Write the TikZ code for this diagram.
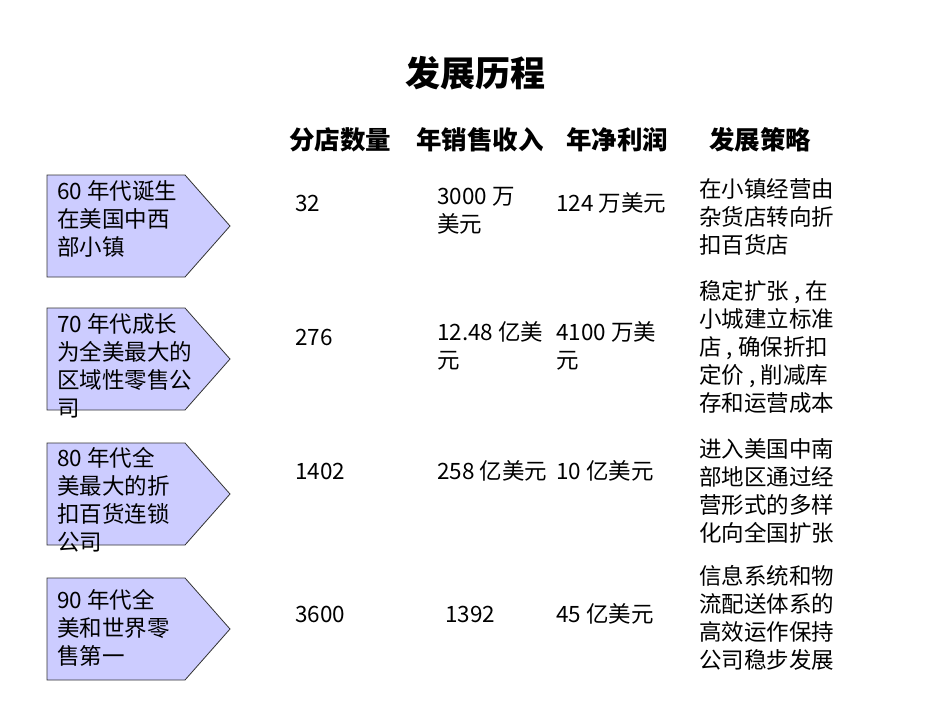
\documentclass[tikz,border=0pt]{standalone}
\usepackage{fontspec}
\setmainfont{Noto Sans CJK SC}
\definecolor{lavender}{RGB}{204,204,255}
\tikzset{
  era/.style={draw=black!80, fill=lavender, line width=0.8pt},
  txt/.style={anchor=north west, inner sep=0pt, align=left, font=\fontsize{22.5}{28}\selectfont},
  cell/.style={anchor=west, inner sep=0pt, font=\fontsize{22.5}{28}\selectfont},
  head/.style={inner sep=0pt, font=\fontsize{25.5}{28}\selectfont\bfseries}
}
\begin{document}
\begin{tikzpicture}[x=1pt,y=-1pt]
  \useasboundingbox (0,0) rectangle (950,713);

  % Title and column heads
  \node[head, font=\fontsize{35}{40}\selectfont\bfseries] (title) at (475,73) {发展历程};
  \node[head] (hstores) at (340,140) {分店数量};
  \node[head] (hsales) at (480,140) {年销售收入};
  \node[head] (hprofit) at (617,140) {年净利润};
  \node[head] (hplan) at (760,140) {发展策略};

  % Era arrows
  \foreach \t/\p in {175/1,308/2,443/3,578/4}
    \draw[era] (47,\t) -- (185,\t) -- (230,\t+51) -- (185,\t+102) -- (47,\t+102) -- cycle;

  \node[txt] (era1) at (57,180) {60 年代诞生\\在美国中西\\部小镇};
  \node[txt] (era2) at (57,313) {70 年代成长\\为全美最大的\\区域性零售公\\司};
  \node[txt] (era3) at (57,447) {80 年代全\\美最大的折\\扣百货连锁\\公司};
  \node[txt] (era4) at (57,589) {90 年代全\\美和世界零\\售第一};

  % Data rows
  \node[cell] (stores1) at (295,203) {32};
  \node[txt] (sales1) at (437,187) {3000 万\\美元};
  \node[cell] (profit1) at (556,203) {124 万美元};
  \node[txt] (plan1) at (699,178) {在小镇经营由\\杂货店转向折\\扣百货店};

  \node[cell] (stores2) at (295,337) {276};
  \node[txt] (sales2) at (437,321) {12.48 亿美\\元};
  \node[txt] (profit2) at (556,321) {4100 万美\\元};
  \node[txt] (plan2) at (699,280) {稳定扩张 , 在\\小城建立标准\\店 , 确保折扣\\定价 , 削减库\\存和运营成本};

  \node[cell] (stores3) at (295,471) {1402};
  \node[cell] (sales3) at (437,471) {258 亿美元};
  \node[cell] (profit3) at (556,471) {10 亿美元};
  \node[txt] (plan3) at (699,438) {进入美国中南\\部地区通过经\\营形式的多样\\化向全国扩张};

  \node[cell] (stores4) at (295,614) {3600};
  \node[cell] (sales4) at (445,614) {1392};
  \node[cell] (profit4) at (556,614) {45 亿美元};
  \node[txt] (plan4) at (699,565) {信息系统和物\\流配送体系的\\高效运作保持\\公司稳步发展};
\end{tikzpicture}
\end{document}
